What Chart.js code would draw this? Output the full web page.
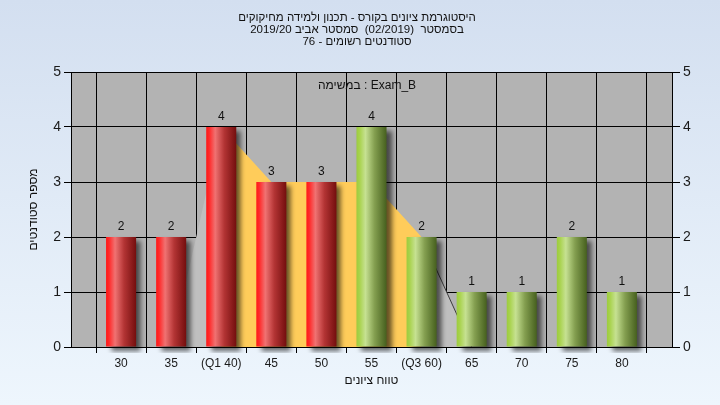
<!DOCTYPE html>
<html>
<head>
<meta charset="utf-8">
<script src="https://cdn.jsdelivr.net/npm/chart.js"></script>
<style>
  body { margin: 0; }
  #wrap { width: 720px; height: 405px; }
</style>
</head>
<body>
<div id="wrap"><canvas id="myChart" width="720" height="405"></canvas></div>
<script>
// 히스토그램 데이터
const categories = ['', '30', '35', '(Q1 40)', '45', '50', '55', '(Q3 60)', '65', '70', '75', '80', ''];
const studentCounts = [null, 2, 2, 4, 3, 3, 4, 2, 1, 1, 2, 1, null];
// 노란 영역 (Q1 ~ Q3)
const quartileArea = [null, null, null, 4, 3, 3, 3, 2, null, null, null, null, null];
// 회색 영역 (양쪽 꼬리)
const tailArea = [null, null, 0, 4, null, null, null, 2, 0, null, null, null, null];
const yTicks = [0, 1, 2, 3, 4, 5];

const titleLines = [
  'היסטוגרמת ציונים בקורס - תכנון ולמידה מחיקוקים',
  'בסמסטר  (02/2019)  סמסטר אביב 2019/20',
  'סטודנטים רשומים - 76'
];
const taskLabel = 'במשימה : Exam_B';
const yTitle = 'מספר סטודנטים';
const xTitle = 'טווח ציונים';

const FONT = "'Liberation Sans', 'DejaVu Sans', sans-serif";
const firstGreen = 6; // 55 부터 초록색

function barFill(c) {
  const chart = c.chart;
  const green = c.dataIndex >= firstGreen;
  const xs = chart.scales.x;
  if (c.type !== 'data' || !xs || !chart.chartArea) return green ? '#9cc64a' : '#e03030';
  const x = xs.getPixelForValue(c.dataIndex);
  const w = (xs.getPixelForValue(1) - xs.getPixelForValue(0)) * 0.6;
  const g = chart.ctx.createLinearGradient(x - w / 2, 0, x + w / 2, 0);
  if (green) {
    g.addColorStop(0, '#9ccc3e');
    g.addColorStop(0.1, '#a8d24c');
    g.addColorStop(0.3, '#c6e192');
    g.addColorStop(0.6, '#849f50');
    g.addColorStop(1, '#46601e');
  } else {
    g.addColorStop(0, '#ff1818');
    g.addColorStop(0.1, '#ff2a2a');
    g.addColorStop(0.3, '#f07272');
    g.addColorStop(0.6, '#b33434');
    g.addColorStop(1, '#740e0e');
  }
  return g;
}

// 배경 + 그림자 + 글자
const decorPlugin = {
  id: 'decor',
  beforeDraw(chart) {
    const ctx = chart.ctx;
    const bg = ctx.createLinearGradient(0, 0, 0, chart.height);
    bg.addColorStop(0, '#d3dff0');
    bg.addColorStop(1, '#eef6fd');
    ctx.save();
    ctx.fillStyle = bg;
    ctx.fillRect(0, 0, chart.width, chart.height);
    const a = chart.chartArea;
    ctx.fillStyle = '#b3b3b3';
    ctx.fillRect(a.left, a.top, a.right - a.left, a.bottom - a.top);
    ctx.restore();
  },
  beforeDatasetDraw(chart, args) {
    if (args.meta.type !== 'bar') return;
    const ctx = chart.ctx;
    ctx.save();
    ctx.shadowColor = 'rgba(0,0,0,0.6)';
    ctx.shadowOffsetX = 5;
    ctx.shadowOffsetY = 4;
    ctx.shadowBlur = 5;
  },
  afterDatasetDraw(chart, args) {
    if (args.meta.type !== 'bar') return;
    chart.ctx.restore();
  },
  afterDraw(chart) {
    const ctx = chart.ctx;
    const a = chart.chartArea;
    ctx.save();
    ctx.fillStyle = '#111';
    ctx.textBaseline = 'middle';

    // 막대 위 숫자
    ctx.font = '12px ' + FONT;
    ctx.textAlign = 'center';
    const meta = chart.getDatasetMeta(2);
    meta.data.forEach((el, i) => {
      if (studentCounts[i] == null) return;
      ctx.fillText(String(studentCounts[i]), el.x, el.y - 10);
    });

    ctx.fillText(taskLabel, 367, 86);
    ctx.fillText(xTitle, (a.left + a.right) / 2, 381);

    // 제목
    ctx.font = '11.5px ' + FONT;
    ctx.direction = 'rtl';
    titleLines.forEach((t, i) => ctx.fillText(t, 357, 18 + i * 12));
    ctx.direction = 'ltr';

    ctx.font = '12px ' + FONT;
    ctx.translate(34, (a.top + a.bottom) / 2);
    ctx.rotate(-Math.PI / 2);
    ctx.fillText(yTitle, 0, 0);
    ctx.restore();
  }
};

const ctx = document.getElementById('myChart');

new Chart(ctx, {
  type: 'bar',
  data: {
    labels: categories,
    datasets: [
      {
        type: 'line',
        data: quartileArea,
        order: 3,
        fill: 'origin',
        backgroundColor: '#ffcc5a',
        borderColor: 'rgba(0,0,0,0)',
        borderWidth: 0,
        pointRadius: 0,
        tension: 0
      },
      {
        type: 'line',
        data: tailArea,
        order: 2,
        fill: 'origin',
        backgroundColor: '#bfbfbf',
        borderWidth: 1,
        pointRadius: 0,
        tension: 0,
        segment: {
          borderColor: c => c.p0DataIndex === 7 ? '#3c3c3c' : 'rgba(0,0,0,0)'
        }
      },
      {
        data: studentCounts,
        order: 1,
        backgroundColor: barFill,
        borderWidth: 0,
        barPercentage: 0.6,
        categoryPercentage: 1,
        clip: { left: 10, top: 10, right: 10, bottom: 6 }
      }
    ]
  },
  options: {
    responsive: false,
    animation: false,
    devicePixelRatio: 1,
    layout: { padding: { top: 72, left: 0, right: 0, bottom: 0 } },
    plugins: {
      legend: { display: false },
      tooltip: { enabled: false }
    },
    scales: {
      x: {
        offset: false,
        grid: { color: '#000', lineWidth: 1, tickLength: 6, tickColor: '#000' },
        border: { color: '#000' },
        ticks: {
          autoSkip: false,
          maxRotation: 0,
          padding: 3,
          color: '#1a1a1a',
          font: { family: FONT, size: 12 }
        },
        afterFit: s => { s.height = 58; }
      },
      y: {
        min: 0,
        max: 5,
        afterBuildTicks: s => { s.ticks = yTicks.map(v => ({ value: v })); },
        grid: { color: '#000', lineWidth: 1, tickLength: 7, tickColor: '#000' },
        border: { color: '#000' },
        ticks: { padding: 3, color: '#1a1a1a', font: { family: FONT, size: 14 } },
        afterFit: s => { s.width = 71; }
      },
      y2: {
        position: 'right',
        min: 0,
        max: 5,
        afterBuildTicks: s => { s.ticks = yTicks.map(v => ({ value: v })); },
        grid: { drawOnChartArea: false, tickLength: 8, tickColor: '#000' },
        border: { color: '#000' },
        ticks: { padding: 3, color: '#1a1a1a', font: { family: FONT, size: 14 } },
        afterFit: s => { s.width = 48; }
      }
    }
  },
  plugins: [decorPlugin]
});
</script>
</body>
</html>
